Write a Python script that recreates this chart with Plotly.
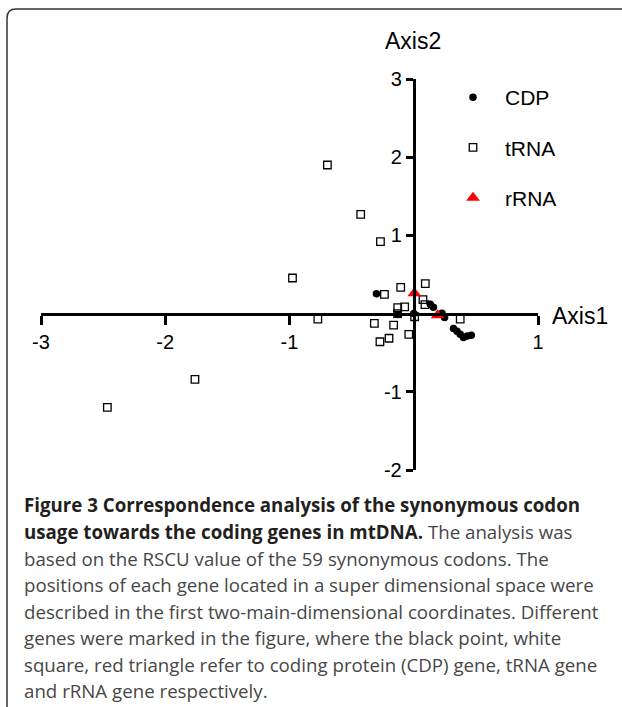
import plotly.graph_objects as go

# correspondence analysis coordinates
cdp_x = [-0.30, 0.133, 0.158, -0.13, 0.0, 0.227, 0.248, 0.32, 0.348, 0.374, 0.40, 0.43, 0.463]
cdp_y = [0.255, 0.119, 0.082, -0.01, 0.0, 0.004, -0.05, -0.19, -0.225, -0.264, -0.305, -0.286, -0.277]

trna_x = [-0.695, -0.427, -0.268, -0.976, -0.772, -2.466, -1.761, -0.236, -0.105, 0.093, 0.074,
          0.09, -0.073, -0.129, -0.13, 0.007, 0.374, -0.317, -0.162, -0.04, -0.199, -0.272]
trna_y = [1.90, 1.27, 0.92, 0.455, -0.07, -1.20, -0.84, 0.246, 0.335, 0.383, 0.178,
          0.115, 0.085, 0.076, 0.0, -0.04, -0.07, -0.125, -0.147, -0.265, -0.315, -0.36]

rrna_x = [0.005, 0.192]
rrna_y = [0.26, -0.02]

x_ticks = [-3, -2, -1, 1]
y_ticks = [-2, -1, 1, 2, 3]

caption = [
    "<b style='color:#231f20'>Figure 3 Correspondence analysis of the synonymous codon</b>",
    "<b style='color:#231f20'>usage towards the coding genes in mtDNA.</b> The analysis was",
    "based on the RSCU value of the 59 synonymous codons. The",
    "positions of each gene located in a super dimensional space were",
    "described in the first two-main-dimensional coordinates. Different",
    "genes were marked in the figure, where the black point, white",
    "square, red triangle refer to coding protein (CDP) gene, tRNA gene",
    "and rRNA gene respectively.",
]

W, H = 622, 707
ML, MR, MT, MB = 41, 84, 79, 237
PW, PH = W - ML - MR, H - MT - MB


def px(x):
    return (x - ML) / PW


def py(y):
    return (H - MB - y) / PH


sans = "Liberation Sans, Arial, sans-serif"

fig = go.Figure()
fig.add_trace(go.Scatter(x=cdp_x, y=cdp_y, mode='markers', name='CDP', legendgroup='a',
                         marker=dict(symbol='circle', size=7.5, color='black')))
fig.add_trace(go.Scatter(x=trna_x, y=trna_y, mode='markers', name='tRNA', legendgroup='b',
                         marker=dict(symbol='square-open', size=7.5, color='black',
                                     line=dict(width=1.3))))
fig.add_trace(go.Scatter(x=rrna_x, y=rrna_y, mode='markers', name='rRNA', legendgroup='c',
                         marker=dict(symbol='triangle-up', size=12, color='#ff0000')))

fig.update_xaxes(range=[-3, 1], anchor='free', position=0.4, showline=True, linewidth=3,
                 linecolor='black', ticks='outside', ticklen=9, tickwidth=3, tickcolor='black',
                 tickvals=x_ticks, ticktext=[str(t) for t in x_ticks], showgrid=False,
                 zeroline=False, tickfont=dict(family=sans, size=20, color='black'))
fig.update_yaxes(range=[-2, 3], anchor='free', position=0.75, showline=True, linewidth=3,
                 linecolor='black', ticks='outside', ticklen=7, tickwidth=3, tickcolor='black',
                 tickvals=y_ticks, ticktext=[str(t) for t in y_ticks], showgrid=False,
                 zeroline=False, tickfont=dict(family=sans, size=20, color='black'))

annotations = [
    dict(text="Axis2", x=px(413), y=py(41), xref='paper', yref='paper', showarrow=False,
         xanchor='center', yanchor='middle', font=dict(family=sans, size=23, color='black')),
    dict(text="Axis1", x=px(550), y=py(316), xref='paper', yref='paper', showarrow=False,
         xanchor='left', yanchor='middle', font=dict(family=sans, size=23, color='black')),
]
line_y = [504, 531, 558, 584, 611, 637, 664, 690]
for txt, ly in zip(caption, line_y):
    annotations.append(dict(text=txt, x=px(22), y=py(ly), xref='paper', yref='paper',
                            showarrow=False, xanchor='left', yanchor='middle', align='left',
                            font=dict(family="Open Sans, Noto Sans, sans-serif", size=18.7,
                                      color='#474747')))

# rounded frame around the figure (only top and left edges are visible)
r = 9
frame = (f"M {px(700)},{py(9)} L {px(7 + r)},{py(9)} "
         f"Q {px(7)},{py(9)} {px(7)},{py(9 + r)} L {px(7)},{py(760)}")

fig.update_layout(
    width=W, height=H,
    margin=dict(l=ML, r=MR, t=MT, b=MB),
    paper_bgcolor='white', plot_bgcolor='white',
    showlegend=True, hovermode=False,
    legend=dict(x=px(441), y=py(77), xanchor='left', yanchor='top', itemwidth=54,
                tracegroupgap=20, bgcolor='rgba(0,0,0,0)',
                font=dict(family=sans, size=21, color='black')),
    annotations=annotations,
    shapes=[dict(type='path', path=frame, xref='paper', yref='paper',
                 line=dict(color='#333333', width=1.5), layer='above')],
)

fig.write_html("out.html", config={'displayModeBar': False},
               post_script="document.body.style.margin='0';document.body.style.overflow='hidden';")
